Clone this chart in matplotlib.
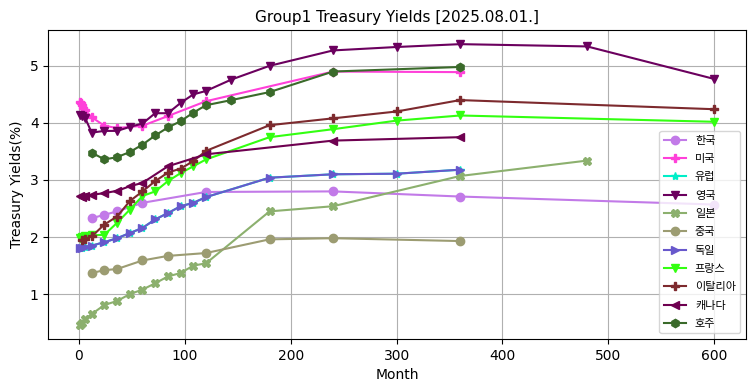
import matplotlib.pyplot as plt

plt.rcParams['font.family'] = ['DejaVu Sans', 'Noto Sans CJK KR']

# maturities in months and yields (%)
kr_m = [12, 24, 36, 60, 120, 240, 360, 600]
kr_y = [2.33, 2.39, 2.45, 2.60, 2.79, 2.80, 2.71, 2.57]

us_m = [1, 2, 3, 4, 6, 12, 24, 36, 60, 84, 120, 240, 360]
us_y = [4.36, 4.35, 4.32, 4.27, 4.22, 4.10, 3.95, 3.91, 3.95, 4.12, 4.38, 4.90, 4.89]

de_m = [1, 3, 6, 12, 24, 36, 48, 60, 72, 84, 96, 108, 120, 180, 240, 300, 360]
de_y = [1.80, 1.81, 1.83, 1.85, 1.91, 1.98, 2.07, 2.16, 2.31, 2.42, 2.54, 2.60, 2.70,
        3.04, 3.10, 3.11, 3.18]

eu_m = de_m
eu_y = de_y

uk_m = [1, 3, 6, 12, 24, 36, 48, 60, 72, 84, 96, 108, 120, 144, 180, 240, 300, 360, 480, 600]
uk_y = [4.13, 4.12, 4.08, 3.83, 3.86, 3.86, 3.93, 3.99, 4.17, 4.17, 4.35, 4.50, 4.56, 4.76,
        5.00, 5.27, 5.33, 5.38, 5.34, 4.77]

jp_m = [1, 3, 6, 12, 24, 36, 48, 60, 72, 84, 96, 108, 120, 180, 240, 360, 480]
jp_y = [0.46, 0.50, 0.56, 0.65, 0.81, 0.88, 1.00, 1.08, 1.19, 1.31, 1.37, 1.50, 1.54,
        2.45, 2.54, 3.07, 3.34]

cn_m = [12, 24, 36, 60, 84, 120, 180, 240, 360]
cn_y = [1.37, 1.42, 1.44, 1.59, 1.67, 1.72, 1.96, 1.98, 1.93]

fr_m = [1, 3, 6, 12, 24, 36, 48, 60, 72, 84, 96, 108, 120, 180, 240, 300, 360, 600]
fr_y = [1.98, 2.00, 2.01, 2.03, 2.04, 2.25, 2.48, 2.72, 2.80, 2.98, 3.12, 3.24, 3.36,
        3.75, 3.89, 4.04, 4.13, 4.02]

it_m = [3, 6, 12, 24, 36, 48, 60, 72, 84, 96, 108, 120, 180, 240, 300, 360, 600]
it_y = [1.95, 1.97, 2.01, 2.22, 2.36, 2.63, 2.80, 2.98, 3.13, 3.20, 3.33, 3.51,
        3.96, 4.08, 4.20, 4.40, 4.24]

ca_m = [1, 3, 6, 12, 24, 36, 48, 60, 84, 120, 240, 360]
ca_y = [2.72, 2.71, 2.72, 2.74, 2.77, 2.81, 2.89, 2.95, 3.24, 3.45, 3.69, 3.75]

au_m = [12, 24, 36, 48, 60, 72, 84, 96, 108, 120, 144, 180, 240, 360]
au_y = [3.48, 3.36, 3.40, 3.49, 3.62, 3.78, 3.92, 4.03, 4.18, 4.31, 4.40, 4.54, 4.90, 4.98]

series = [
    ('한국', kr_m, kr_y, 'o', '#c27ae8'),
    ('미국', us_m, us_y, 'P', '#ff40d9'),
    ('유럽', eu_m, eu_y, '*', '#00eec8'),
    ('영국', uk_m, uk_y, 'v', '#6b005e'),
    ('일본', jp_m, jp_y, 'X', '#8cb06e'),
    ('중국', cn_m, cn_y, 'o', '#9c9c72'),
    ('독일', de_m, de_y, '>', '#6858cc'),
    ('프랑스', fr_m, fr_y, 'v', '#33ff11'),
    ('이탈리아', it_m, it_y, 'P', '#7d2a2e'),
    ('캐나다', ca_m, ca_y, '<', '#6e0050'),
    ('호주', au_m, au_y, 'h', '#3a6a2a'),
]

fig = plt.figure(figsize=(7.55, 3.91), dpi=100)
ax = fig.add_axes([0.064, 0.133, 0.924, 0.79])

for name, m, y, mk, c in series:
    ax.plot(m, y, marker=mk, color=c, label=name)

ax.set_title('Group1 Treasury Yields [2025.08.01.]', fontsize=11)
ax.set_xlabel('Month')
ax.set_ylabel('Treasury Yields(%)')
ax.grid(True)
ax.legend(loc='lower right', fontsize=8, labelspacing=0.75)

fig.savefig('out.png', dpi=100)
